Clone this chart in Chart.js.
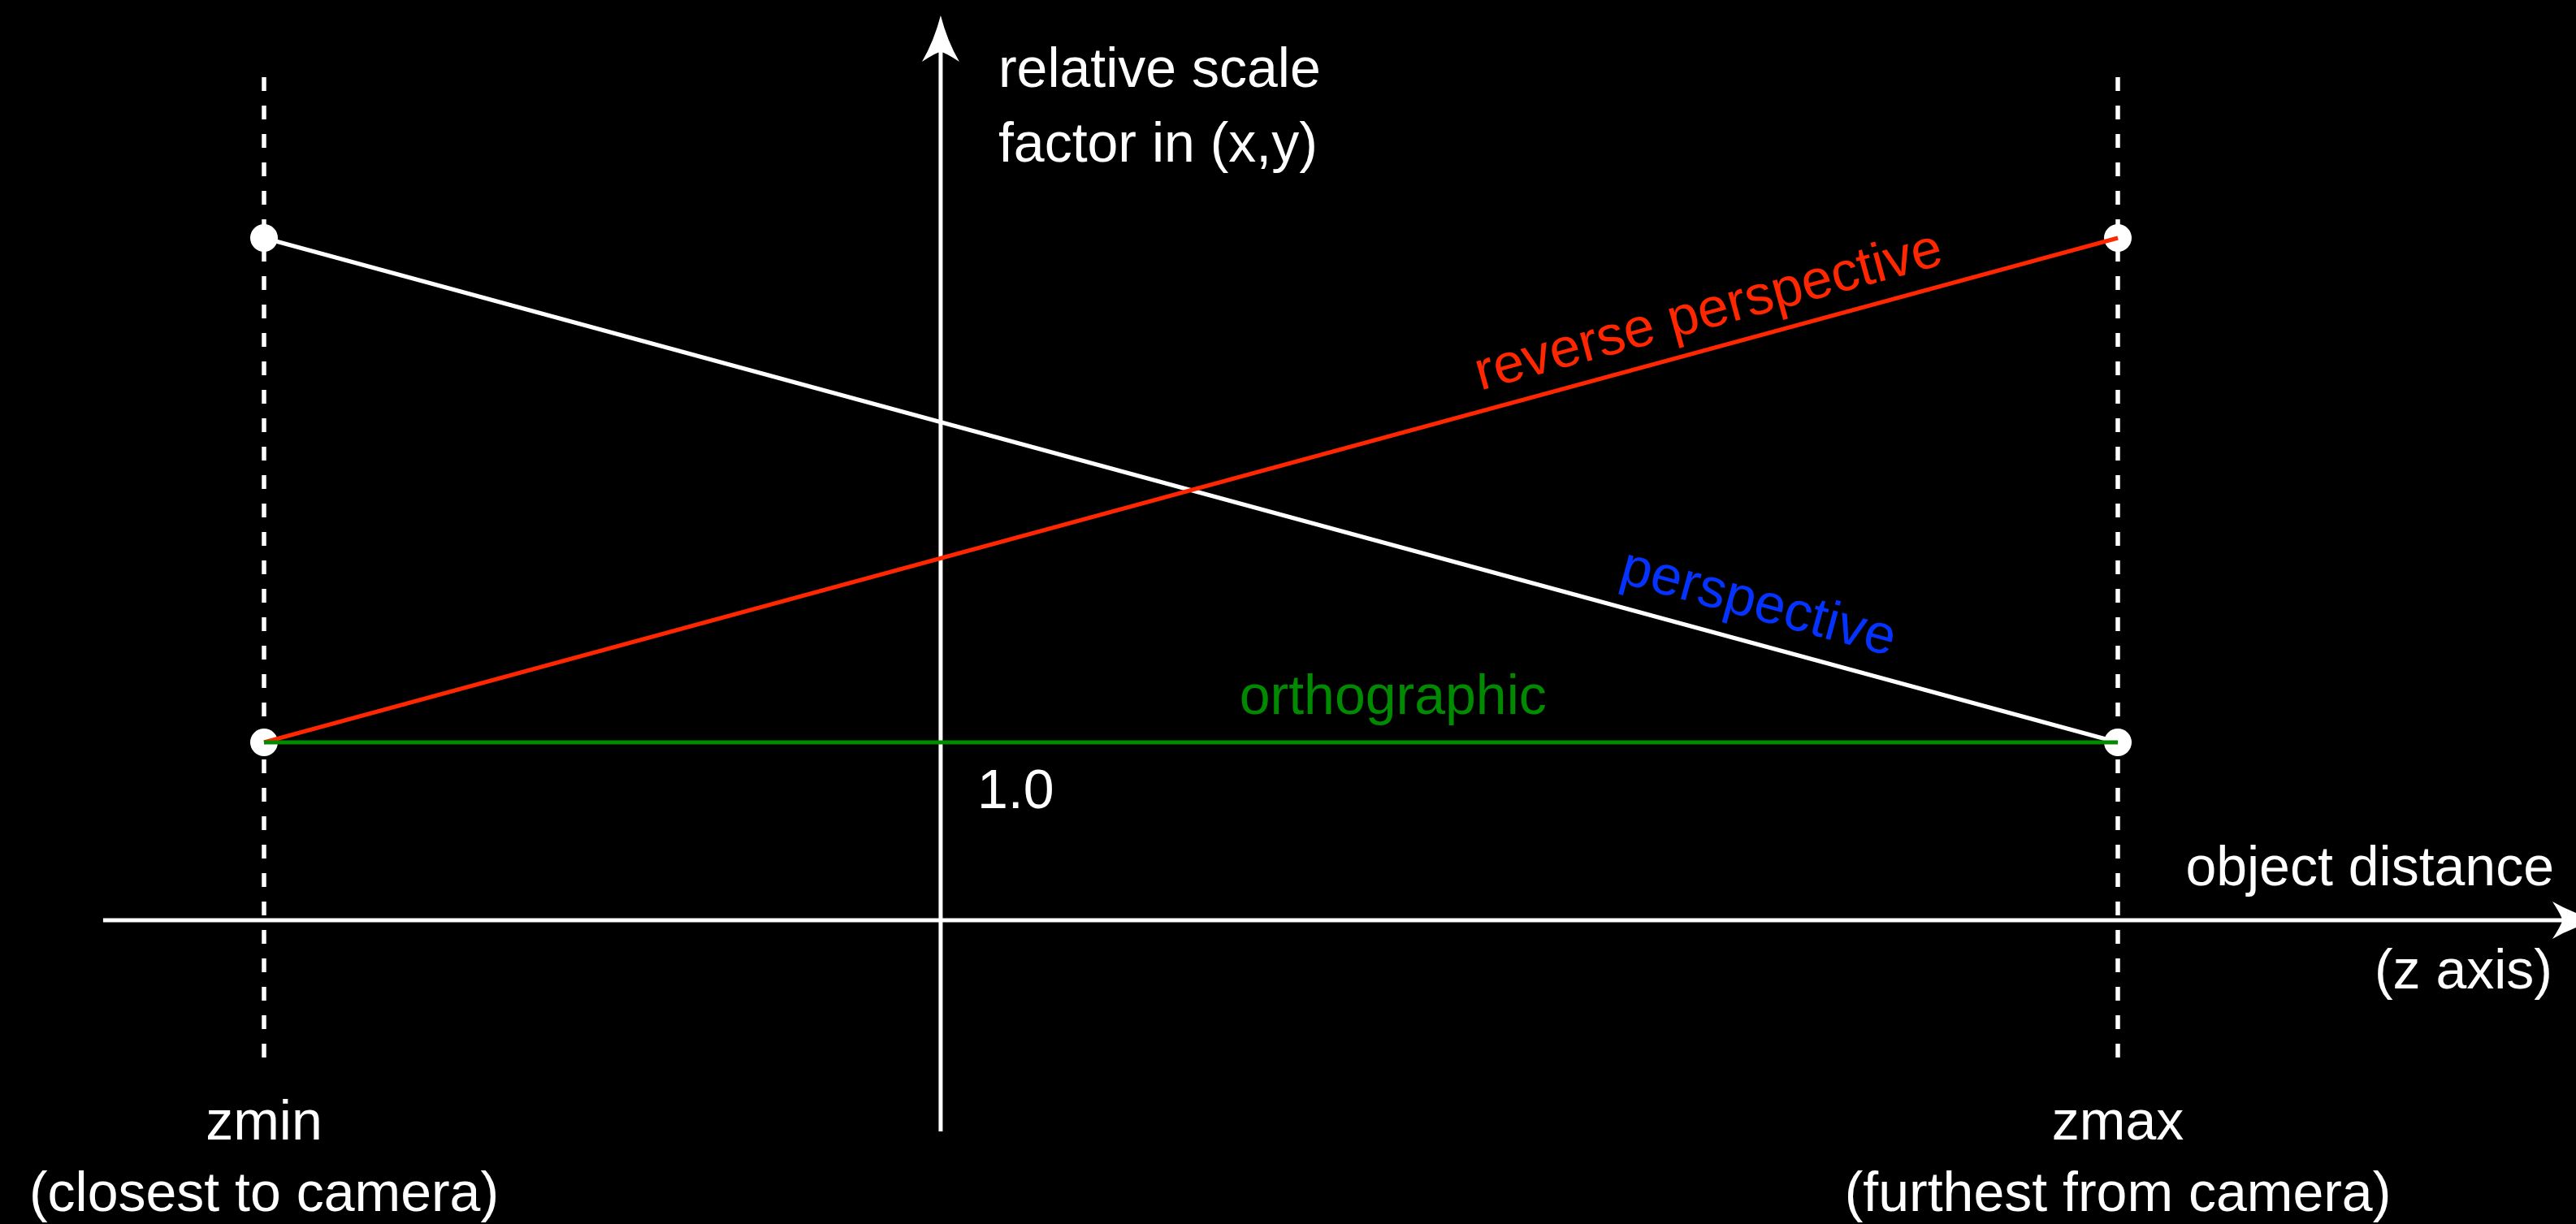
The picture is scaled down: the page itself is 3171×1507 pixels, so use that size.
<!DOCTYPE html>
<html><head><meta charset="utf-8">
<script src="https://cdn.jsdelivr.net/npm/chart.js@4.4.0/dist/chart.umd.min.js"></script>
<style>
html,body{margin:0;padding:0;background:#000;overflow:hidden}
#wrap{width:3171px;height:1507px;position:relative}
</style>
</head><body>
<div id="wrap"><canvas id="c"></canvas></div>
<script>
// ---- data ----
const zStops = [0, 1];                       // zmin, zmax (normalised object distance)
const zStopLabels = ['zmin', 'zmax'];
const zStopNotes = ['(closest to camera)', '(furthest from camera)'];
const perspective = [2.0, 1.0];              // relative scale at zmin, zmax
const reversePerspective = [1.0, 2.0];
const orthographic = [1.0, 1.0];
const seriesNames = ['perspective', 'reverse perspective', 'orthographic'];
const yTickValues = [1.0];
const yTickLabels = ['1.0'];
const yAxisTitle = ['relative scale', 'factor in (x,y)'];
const xAxisTitle = ['object distance', '(z axis)'];

// ---- styling / layout ----
const WHITE = '#ffffff', RED = '#ff2600', GREEN = '#008a00', BLUE = '#0433ff';
const FONT = '68px "Liberation Sans", Helvetica, Arial, sans-serif';
const yAxisAtZ = 0.365;      // where the vertical arrow crosses the z axis
const xAxisAtV = 0.6473;     // where the horizontal arrow sits
const xAxisStartZ = -0.0868, xAxisTipZ = 1.2594;
const yAxisBottomV = 0.2287, yAxisTipV = 2.4412;
const guideTopV = 2.3188, guideBottomV = 0.3494;

const pts = arr => zStops.map((z, i) => ({x: z, y: arr[i]}));
const guide = z => [{x: z, y: guideTopV}, {x: z, y: guideBottomV}];

const lineDS = (label, arr, color, order) => ({
  label, data: pts(arr), showLine: true, borderColor: color, borderWidth: 5,
  pointRadius: 0, fill: false, order, clip: false
});

function arrowHead(ctx, tx, ty, dx, dy) {
  const len = 57, hw = 23, notch = 12;
  const px = -dy, py = dx;
  const bx = tx - dx * len, by = ty - dy * len;
  const nx = tx - dx * (len - notch), ny = ty - dy * (len - notch);
  ctx.beginPath();
  ctx.moveTo(tx, ty);
  ctx.quadraticCurveTo(tx - dx * len * 0.55 + px * hw * 0.35, ty - dy * len * 0.55 + py * hw * 0.35, bx + px * hw, by + py * hw);
  ctx.quadraticCurveTo(nx + px * hw * 0.2, ny + py * hw * 0.2, nx, ny);
  ctx.quadraticCurveTo(nx - px * hw * 0.2, ny - py * hw * 0.2, bx - px * hw, by - py * hw);
  ctx.quadraticCurveTo(tx - dx * len * 0.55 - px * hw * 0.35, ty - dy * len * 0.55 - py * hw * 0.35, tx, ty);
  ctx.closePath();
  ctx.fill();
}

const diagram = {
  id: 'diagram',
  beforeDraw(chart) {
    const c = chart.ctx;
    c.save(); c.fillStyle = '#000'; c.fillRect(0, 0, chart.width, chart.height); c.restore();
  },
  beforeDatasetsDraw(chart) {
    const c = chart.ctx, X = chart.scales.x, Y = chart.scales.y;
    c.save();
    c.strokeStyle = WHITE; c.fillStyle = WHITE; c.lineWidth = 5; c.lineCap = 'butt';
    // horizontal (z) axis
    const ay = Y.getPixelForValue(xAxisAtV);
    const x0 = X.getPixelForValue(xAxisStartZ), x1 = X.getPixelForValue(xAxisTipZ);
    c.beginPath(); c.moveTo(x0, ay); c.lineTo(x1 - 40, ay); c.stroke();
    arrowHead(c, x1, ay, 1, 0);
    // vertical (scale) axis
    const ax = X.getPixelForValue(yAxisAtZ);
    const yb = Y.getPixelForValue(yAxisBottomV), yt = Y.getPixelForValue(yAxisTipV);
    c.beginPath(); c.moveTo(ax, yb); c.lineTo(ax, yt + 40); c.stroke();
    arrowHead(c, ax, yt, 0, -1);
    c.restore();
  },
  afterDatasetsDraw(chart) {
    const c = chart.ctx, X = chart.scales.x, Y = chart.scales.y;
    c.save();
    c.font = FONT; c.textBaseline = 'alphabetic';
    const ax = X.getPixelForValue(yAxisAtZ), yt = Y.getPixelForValue(yAxisTipV);
    const ay = Y.getPixelForValue(xAxisAtV);
    // y axis title
    c.fillStyle = WHITE; c.textAlign = 'left';
    c.fillText(yAxisTitle[0], ax + 71, yt + 88);
    c.fillText(yAxisTitle[1], ax + 71, yt + 180);
    // tick label
    yTickValues.forEach((v, i) => c.fillText(yTickLabels[i], ax + 45, Y.getPixelForValue(v) + 81));
    // x axis title
    c.textAlign = 'right';
    c.fillText(xAxisTitle[0], chart.width - 27, ay - 43);
    c.fillText(xAxisTitle[1], chart.width - 29, ay + 84);
    // zmin / zmax labels
    c.textAlign = 'center';
    const gb = Y.getPixelForValue(guideBottomV);
    zStops.forEach((z, i) => {
      const px = X.getPixelForValue(z);
      c.fillText(zStopLabels[i], px, gb + 85);
      c.fillText(zStopNotes[i], px, gb + 173);
    });
    // orthographic label
    c.fillStyle = GREEN;
    c.fillText(seriesNames[2], X.getPixelForValue(0.609), Y.getPixelForValue(orthographic[0]) - 35);
    // rotated labels
    const along = (arr, t, gap, text, color) => {
      const xa = X.getPixelForValue(zStops[0]), xb = X.getPixelForValue(zStops[1]);
      const ya = Y.getPixelForValue(arr[0]), yb2 = Y.getPixelForValue(arr[1]);
      const ang = Math.atan2(yb2 - ya, xb - xa);
      const px = xa + (xb - xa) * t, py = ya + (yb2 - ya) * t;
      c.save(); c.translate(px, py); c.rotate(ang);
      c.fillStyle = color; c.textAlign = 'left';
      c.fillText(text, 0, -gap);
      c.restore();
    };
    along(reversePerspective, 0.659, 25, seriesNames[1], RED);
    along(perspective, 0.7269, 29, seriesNames[0], BLUE);
    c.restore();
  }
};

new Chart(document.getElementById('c'), {
  type: 'scatter',
  data: {
    datasets: [
      {label: 'zmin guide', data: guide(zStops[0]), showLine: true, borderColor: WHITE, borderWidth: 5.5, borderDash: [17, 18], pointRadius: 0, order: 10},
      {label: 'zmax guide', data: guide(zStops[1]), showLine: true, borderColor: WHITE, borderWidth: 5.5, borderDash: [17, 18], pointRadius: 0, order: 9},
      {label: 'endpoints', data: [...pts(perspective), ...pts(reversePerspective)], showLine: false,
       pointRadius: 17, pointBackgroundColor: WHITE, pointBorderWidth: 0, order: 8, clip: false},
      lineDS(seriesNames[0], perspective, WHITE, 3),
      lineDS(seriesNames[1], reversePerspective, RED, 2),
      lineDS(seriesNames[2], orthographic, GREEN, 1)
    ]
  },
  options: {
    responsive: true, maintainAspectRatio: false, animation: false, devicePixelRatio: 1,
    layout: {padding: 0, autoPadding: false},
    plugins: {legend: {display: false}, tooltip: {enabled: false}},
    events: [],
    scales: {
      x: {type: 'linear', display: false, min: -0.14242, max: 1.24715},
      y: {type: 'linear', display: false, min: 0.04509, max: 2.47182}
    }
  },
  plugins: [diagram]
});
</script>
</body></html>
